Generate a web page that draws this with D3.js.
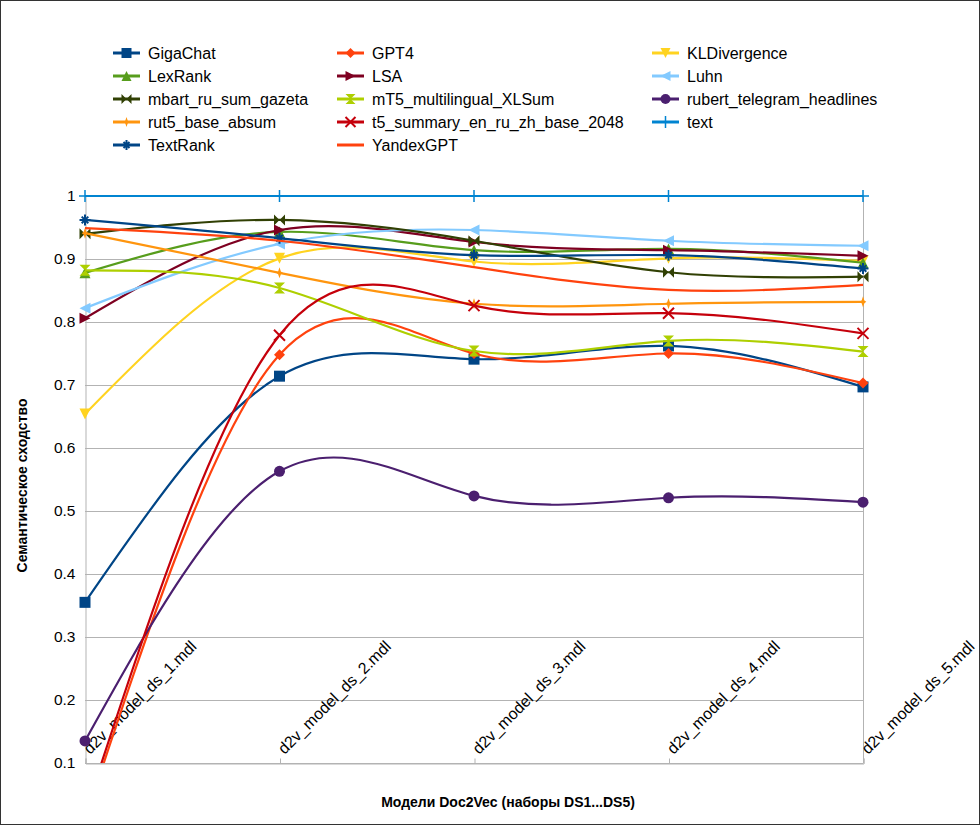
<!DOCTYPE html>
<html><head><meta charset="utf-8">
<script src="https://cdn.jsdelivr.net/npm/d3@7"></script>
<style>
html,body{margin:0;padding:0;background:#fff;}
svg{display:block;font-family:"Liberation Sans",Arial,sans-serif;}
</style></head>
<body>
<svg id="chart" width="980" height="825"></svg>
<script>
const categories = ["d2v_model_ds_1.mdl","d2v_model_ds_2.mdl","d2v_model_ds_3.mdl","d2v_model_ds_4.mdl","d2v_model_ds_5.mdl"];
const yTicks = [0.1,0.2,0.3,0.4,0.5,0.6,0.7,0.8,0.9,1];
const seriesNames = ["GigaChat","GPT4","KLDivergence","LexRank","LSA","Luhn","mbart_ru_sum_gazeta","mT5_multilingual_XLSum","rubert_telegram_headlines","rut5_base_absum","t5_summary_en_ru_zh_base_2048","text","TextRank","YandexGPT"];
const gigaChat   = [0.355,0.714,0.741,0.762,0.697];
const gpt4       = [0.01,0.748,0.750,0.750,0.703];
const klDiv      = [0.654,0.901,0.896,0.901,0.897];
const lexRank    = [0.878,0.943,0.914,0.916,0.894];
const lsa        = [0.806,0.946,0.927,0.914,0.905];
const luhn       = [0.822,0.924,0.946,0.929,0.921];
const mbart      = [0.940,0.962,0.929,0.879,0.872];
const mt5        = [0.882,0.854,0.754,0.770,0.753];
const rubert     = [0.135,0.563,0.524,0.521,0.514];
const rut5       = [0.941,0.878,0.829,0.829,0.832];
const t5         = [0.02,0.779,0.826,0.814,0.782];
const textRef    = [1.0,1.0,1.0,1.0,1.0];
const textRank   = [0.962,0.933,0.906,0.906,0.885];
const yandexGPT  = [0.949,0.929,0.887,0.851,0.859];
const seriesValues = [gigaChat,gpt4,klDiv,lexRank,lsa,luhn,mbart,mt5,rubert,rut5,t5,textRef,textRank,yandexGPT];
const colors = ["#004586","#ff420e","#ffd320","#579d1c","#7e0021","#83caff","#314004","#aecf00","#4b1f6f","#ff950e","#c5000b","#0084d1","#004586","#ff420e"];
const markers = ["square","diamond","down","up","right","left","bowtie","hourglass","circle","star","x","plus","asterisk","none"];
const xTitle = "Модели Doc2Vec (наборы DS1...DS5)";
const yTitle = "Семантическое сходство";

const svg = d3.select("#chart");
const W = 980, H = 825;
const plot = {left:85, right:863, top:196, bottom:763};

svg.append("rect").attr("x",0.5).attr("y",0.5).attr("width",W-1).attr("height",H-1)
  .attr("fill","#fff").attr("stroke","#333").attr("stroke-width",1);

const x = d3.scalePoint().domain(categories).range([plot.left, plot.right]).padding(0);
const y = d3.scaleLinear().domain([0.1,1]).range([plot.bottom, plot.top]);

// grid
svg.append("g").selectAll("line").data(yTicks).join("line")
  .attr("x1",plot.left).attr("x2",plot.right)
  .attr("y1",d=>Math.round(y(d))+0.5).attr("y2",d=>Math.round(y(d))+0.5)
  .attr("stroke","#b3b3b3").attr("stroke-width",1);

// y axis
const yAxis = d3.axisLeft(y).tickValues(yTicks).tickSize(0).tickPadding(10)
  .tickFormat(d=> d===1 ? "1" : d3.format(".1f")(d));
const gy = svg.append("g").attr("transform",`translate(${plot.left+0.5},0)`).call(yAxis);
gy.select(".domain").attr("stroke","#b3b3b3");
gy.selectAll("text").attr("font-size",15.5).attr("fill","#000").attr("font-family","Liberation Sans, Arial, sans-serif");

// right border line
svg.append("line").attr("x1",plot.right+0.5).attr("x2",plot.right+0.5).attr("y1",plot.top).attr("y2",plot.bottom)
  .attr("stroke","#b3b3b3");

// x axis
const xAxis = d3.axisBottom(x).tickSize(-5).tickFormat("");
const gx = svg.append("g").attr("transform",`translate(0.5,${Math.round(plot.bottom)+0.5})`).call(xAxis);
gx.select(".domain").attr("stroke","#b3b3b3");
gx.selectAll(".tick line").attr("stroke","#b3b3b3");

// x labels rotated
svg.append("g").selectAll("text").data(categories).join("text")
  .attr("transform",d=>`translate(${x(d)+5},${plot.bottom-8}) rotate(-45)`)
  .attr("text-anchor","start").attr("font-size",16).attr("fill","#000")
  .text(d=>d);

// titles
svg.append("text").attr("x",(plot.left+plot.right)/2+34).attr("y",807).attr("text-anchor","middle")
  .attr("font-size",14).attr("font-weight","bold").text(xTitle);
svg.append("text").attr("transform",`translate(27,${(plot.top+plot.bottom)/2+6}) rotate(-90)`)
  .attr("text-anchor","middle").attr("font-size",14).attr("font-weight","bold").text(yTitle);

function markerPath(type, s){
  const r = s*0.25;
  switch(type){
    case "square": return `M${-s},${-s}H${s}V${s}H${-s}Z`;
    case "diamond": return `M0,${-s}L${s},0L0,${s}L${-s},0Z`;
    case "down": return `M${-s},${-s}L${s},${-s}L0,${s}Z`;
    case "up": return `M${-s},${s}L${s},${s}L0,${-s}Z`;
    case "right": return `M${-s},${-s}L${s},0L${-s},${s}Z`;
    case "left": return `M${s},${-s}L${-s},0L${s},${s}Z`;
    case "bowtie": return `M${-s},${-s}L0,0L${-s},${s}ZM${s},${-s}L0,0L${s},${s}Z`;
    case "hourglass": return `M${-s},${-s}L${s},${-s}L0,0ZM${-s},${s}L${s},${s}L0,0Z`;
    case "circle": return `M${-s},0A${s},${s} 0 1,0 ${s},0A${s},${s} 0 1,0 ${-s},0Z`;
    case "star": return `M0,${-s}L${r},${-r}L${s*0.6},0L${r},${r}L0,${s}L${-r},${r}L${-s*0.6},0L${-r},${-r}Z`;
    default: return "";
  }
}
function strokeMarker(type, s){
  switch(type){
    case "x": return `M${-s},${-s}L${s},${s}M${s},${-s}L${-s},${s}`;
    case "plus": return `M0,${-s}L0,${s}M${-s},0L${s},0`;
    case "asterisk": return `M0,${-s}L0,${s}M${-s},0L${s},0M${-s*0.6},${-s*0.6}L${s*0.6},${s*0.6}M${s*0.6},${-s*0.6}L${-s*0.6},${s*0.6}`;
    default: return "";
  }
}
function drawMarker(g, type, color, cx, cy, s){
  if(type==="none") return;
  if(["x","plus","asterisk"].includes(type)){
    g.append("path").attr("d",strokeMarker(type,s)).attr("transform",`translate(${cx},${cy})`)
      .attr("stroke",color).attr("stroke-width",type==="plus"?1.5:2).attr("fill","none");
  } else {
    g.append("path").attr("d",markerPath(type,s)).attr("transform",`translate(${cx},${cy})`)
      .attr("fill",color);
  }
}

// clip
svg.append("defs").append("clipPath").attr("id","clip").append("rect")
  .attr("x",plot.left-10).attr("y",plot.top-10).attr("width",plot.right-plot.left+20).attr("height",plot.bottom-plot.top+10);

const line = d3.line().x((d,i)=>x(categories[i])).y(d=>y(d)).curve(d3.curveNatural);
const gLines = svg.append("g").attr("clip-path","url(#clip)");
seriesNames.forEach((name,k)=>{
  const vals = seriesValues[k];
  gLines.append("path").datum(vals).attr("d",line).attr("fill","none")
    .attr("stroke",colors[k]).attr("stroke-width",2.2).attr("stroke-linejoin","round");
  vals.forEach((v,i)=>{
    if(v>=0.1) drawMarker(gLines, markers[k], colors[k], x(categories[i]), y(v), markers[k]==="plus"?6:5.5);
  });
});

// legend
const legCols = [113, 337, 652];
const legRows = [53, 76, 99, 122, 145];
const leg = svg.append("g");
seriesNames.forEach((name,k)=>{
  const col = k%3, row = Math.floor(k/3);
  const lx = legCols[col], ly = legRows[row];
  leg.append("line").attr("x1",lx).attr("x2",lx+27).attr("y1",ly).attr("y2",ly)
    .attr("stroke",colors[k]).attr("stroke-width",3);
  drawMarker(leg, markers[k], colors[k], lx+13.5, ly, markers[k]==="plus"?6:5);
  leg.append("text").attr("x",lx+35).attr("y",ly+6).attr("font-size",16).attr("fill","#000").text(name);
});
</script>
</body></html>
